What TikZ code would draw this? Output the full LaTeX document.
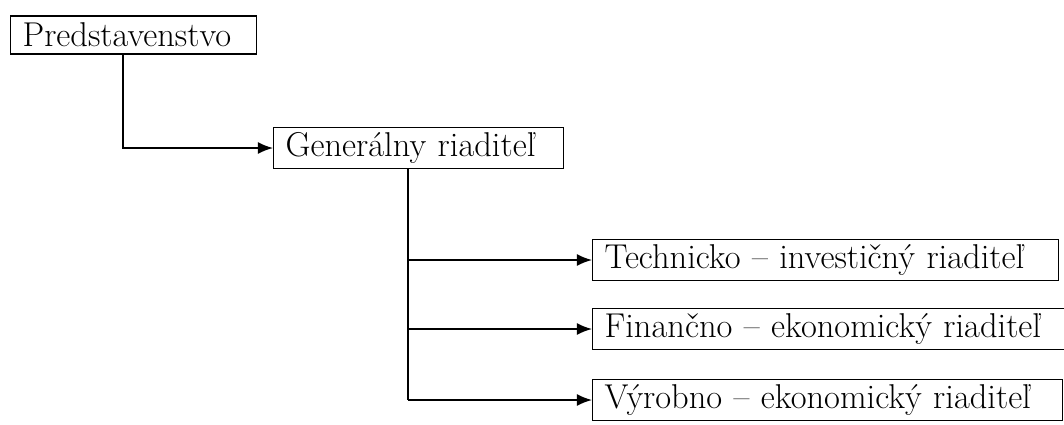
\documentclass[tikz,border=0pt]{standalone}
\usetikzlibrary{arrows.meta}

\tikzset{
  box/.style={draw, line width=0.9pt, anchor=west, text width=#1, align=left,
    inner xsep=0.3cm, minimum height=0.95cm,
    font=\fontsize{24.5}{28}\selectfont},
  arr/.style={line width=1.1pt, -{Latex[length=0.38cm,width=0.3cm]}},
  link/.style={line width=1.1pt}
}

\begin{document}
\begin{tikzpicture}[x=0.025cm, y=-0.025cm]
\useasboundingbox (0,0) rectangle (1064,424);

\node[box=5.55cm] (pred) at (10,35) {Predstavenstvo};
\node[box=6.65cm] (gen) at (273,148) {Generálny riaditeľ};
\node[box=11.05cm] (tech) at (592,260) {Technicko – investičný riaditeľ};
\node[box=11.45cm] (fin) at (592,329) {Finančno – ekonomický riaditeľ};
\node[box=11.15cm] (vyr) at (592,400) {Výrobno – ekonomický riaditeľ};

% predstavenstvo -> generalny
\draw[arr] (pred.south west) ++(113,0) |- (gen.west);

% generalny -> riaditelia
\draw[link] (gen.south west) ++(135,0) coordinate (trunk) -- (trunk |- vyr.west);
\foreach \n in {tech,fin,vyr}
  \draw[arr] (trunk |- \n.west) -- (\n.west);
\end{tikzpicture}
\end{document}
